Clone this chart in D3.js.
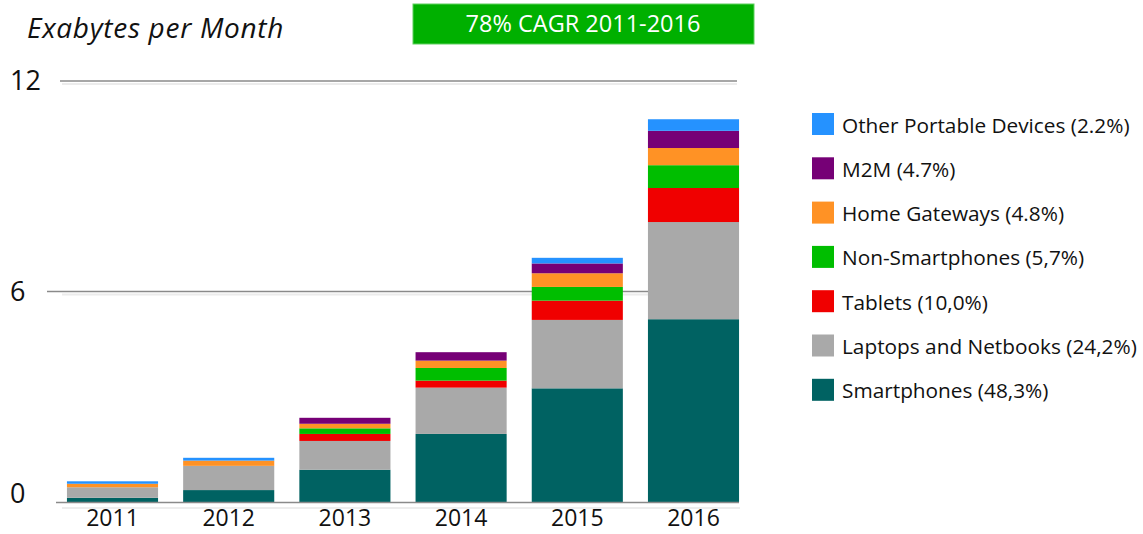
<!DOCTYPE html>
<html>
<head>
<meta charset="utf-8">
<script src="https://cdn.jsdelivr.net/npm/d3@7"></script>
<style>
    html, body { margin: 0; padding: 0; background: #fff; }
    text { font-family: "Open Sans", sans-serif; }
</style>
</head>
<body>
<div id="chart"></div>
<script>
(function(d3) {
    'use strict';

    // values, Exabytes per month
    var years = ['2011', '2012', '2013', '2014', '2015', '2016'];
    var smartphones = [0.12, 0.34, 0.92, 1.94, 3.24, 5.21];
    var laptops = [0.30, 0.69, 0.82, 1.32, 1.95, 2.77];
    var tablets = [0, 0, 0.20, 0.20, 0.55, 0.97];
    var nonSmartphones = [0, 0, 0.16, 0.36, 0.39, 0.65];
    var homeGateways = [0.10, 0.15, 0.13, 0.21, 0.39, 0.49];
    var m2m = [0, 0, 0.17, 0.24, 0.28, 0.49];
    var otherPortable = [0.07, 0.08, 0, 0, 0.16, 0.33];

    var seriesKeys = ['smart', 'laptop', 'tablet', 'nonsmart', 'home', 'm2m', 'other'];
    var seriesLabels = [
        'Smartphones (48,3%)',
        'Laptops and Netbooks (24,2%)',
        'Tablets (10,0%)',
        'Non-Smartphones (5,7%)',
        'Home Gateways (4.8%)',
        'M2M (4.7%)',
        'Other Portable Devices (2.2%)'
    ];
    var yTicks = [0, 6, 12];
    var gridTicks = [6, 12];

    var settings = {
        width: 1143,
        height: 534,
        plot: { left: 54.4, right: 751.6, top: 81, bottom: 502 },
        legend: { x: 812, y: 113, size: 22, spacing: 44.3 }
    };

    var colors = ['#006262', '#a9a9a9', '#f00000', '#00be00', '#ff9225', '#760076', '#2592ff'];

    var table = years.map(function(y, i) {
        return {
            year: y,
            smart: smartphones[i],
            laptop: laptops[i],
            tablet: tablets[i],
            nonsmart: nonSmartphones[i],
            home: homeGateways[i],
            m2m: m2m[i],
            other: otherPortable[i]
        };
    });

    var svg = d3.select('#chart').append('svg')
        .attr('width', settings.width)
        .attr('height', settings.height);

    var x = d3.scaleBand()
        .domain(years)
        .range([settings.plot.left, settings.plot.right])
        .paddingInner(0.216)
        .paddingOuter(0.108);

    var y = d3.scaleLinear()
        .domain([0, 12])
        .range([settings.plot.bottom, settings.plot.top]);

    var color = d3.scaleOrdinal()
        .domain(seriesKeys)
        .range(colors);

    // title
    svg.append('text')
        .attr('x', 27)
        .attr('y', 38)
        .attr('font-size', 28)
        .attr('font-style', 'italic')
        .attr('letter-spacing', 0.7)
        .attr('fill', '#111')
        .text('Exabytes per Month');

    // CAGR box
    svg.append('rect')
        .attr('x', 413)
        .attr('y', 4)
        .attr('width', 341)
        .attr('height', 40)
        .attr('fill', '#00b000')
        .attr('stroke', '#5fd05f')
        .attr('stroke-width', 1);

    svg.append('text')
        .attr('x', 583)
        .attr('y', 32)
        .attr('text-anchor', 'middle')
        .attr('font-size', 23.5)
        .attr('fill', '#fff')
        .text('78% CAGR 2011-2016');

    // grid lines
    svg.selectAll('.grid-shadow')
        .data(gridTicks)
        .enter()
        .append('line')
        .attr('x1', 62)
        .attr('x2', 737)
        .attr('y1', function(d) { return y(d) + 3; })
        .attr('y2', function(d) { return y(d) + 3; })
        .attr('stroke', '#ececec')
        .attr('stroke-width', 2);

    svg.selectAll('.grid')
        .data(gridTicks)
        .enter()
        .append('line')
        .attr('x1', function(d) { return d === 12 ? 60 : 47; })
        .attr('x2', 737)
        .attr('y1', function(d) { return y(d); })
        .attr('y2', function(d) { return y(d); })
        .attr('stroke', '#8a8a8a')
        .attr('stroke-width', 1.5);

    // y labels
    svg.selectAll('.ytick')
        .data(yTicks)
        .enter()
        .append('text')
        .attr('x', 10)
        .attr('y', function(d) { return d === 0 ? y(d) + 1 : y(d) + 9; })
        .attr('font-size', 27)
        .attr('fill', '#111')
        .text(function(d) { return d; });

    // stacked bars
    var stack = d3.stack().keys(seriesKeys);
    var layers = stack(table);

    svg.selectAll('.layer')
        .data(layers)
        .enter()
        .append('g')
        .attr('fill', function(d) { return color(d.key); })
        .selectAll('rect')
        .data(function(d) { return d; })
        .enter()
        .append('rect')
        .attr('x', function(d) { return x(d.data.year); })
        .attr('width', x.bandwidth())
        .attr('y', function(d) { return y(d[1]); })
        .attr('height', function(d) { return y(d[0]) - y(d[1]); });

    // baseline
    svg.append('line')
        .attr('x1', 56)
        .attr('x2', 739)
        .attr('y1', y(0) + 0.5)
        .attr('y2', y(0) + 0.5)
        .attr('stroke', '#8a8a8a')
        .attr('stroke-width', 1.5);

    svg.append('line')
        .attr('x1', 62)
        .attr('x2', 740)
        .attr('y1', y(0) + 6)
        .attr('y2', y(0) + 6)
        .attr('stroke', '#ededed')
        .attr('stroke-width', 2);

    // x labels
    svg.selectAll('.xtick')
        .data(years)
        .enter()
        .append('text')
        .attr('x', function(d) { return x(d) + x.bandwidth() / 2; })
        .attr('y', 526)
        .attr('text-anchor', 'middle')
        .attr('font-size', 23)
        .attr('fill', '#111')
        .text(function(d) { return d; });

    // legend, top entry is the top of the stack
    var legendItems = seriesKeys.slice().reverse();

    var legend = svg.selectAll('.legend')
        .data(legendItems)
        .enter()
        .append('g')
        .attr('class', 'legend')
        .attr('transform', function(d, i) {
            return 'translate(' + settings.legend.x + ',' + (settings.legend.y + i * settings.legend.spacing) + ')';
        });

    legend.append('rect')
        .attr('width', settings.legend.size)
        .attr('height', settings.legend.size)
        .attr('fill', color);

    legend.append('text')
        .attr('x', 30)
        .attr('y', 19.5)
        .attr('font-size', 20.8)
        .attr('fill', '#111')
        .text(function(d) { return seriesLabels[seriesKeys.indexOf(d)]; });

})(window.d3);
</script>
</body>
</html>
